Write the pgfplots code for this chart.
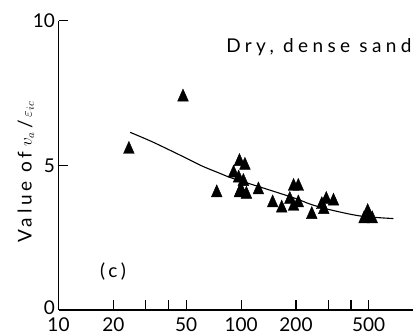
\documentclass[border=0pt]{standalone}
\usepackage{pgfplots}
\pgfplotsset{compat=1.18}
\usepackage{fontspec}
\setmainfont{Lato}
\newcommand{\lab}{\fontsize{19}{20}\selectfont}
\newcommand{\wide}{\addfontfeature{LetterSpace=20}}
\newcommand{\wider}{\addfontfeature{LetterSpace=23}}
\begin{document}
\begin{tikzpicture}[x=1pt,y=1pt]
\clip (0,0) rectangle (413,336);
\begin{axis}[
  at={(58.5pt,26pt)}, anchor=south west,
  scale only axis, width=354.5pt, height=289.3pt,
  xmode=log, xmin=10, xmax=875, ymin=0, ymax=10,
  axis lines=left, axis line style={-, line width=1.2pt},
  tick align=inside, major tick length=10pt,
  tick style={line width=1.1pt, black},
  xtick={10,20,30,40,50,100,200,300,400,500},
  xticklabels={10,20,,,50,100,200,,,500},
  minor xtick={},
  ytick={0,5,10}, yticklabels={\raisebox{5pt}{0},5,10},
  tick label style={font=\lab},
  xticklabel style={yshift=-4pt},
  ylabel={{\wide Value of} {\fontsize{16}{17}\selectfont$v_a$}\,/\,{\fontsize{15}{16}\selectfont$\varepsilon_{ic}$}},
  ylabel style={font=\lab, at={(axis description cs:-0.092,0.477)}, anchor=center},
  clip=false,
]
\addplot[only marks, mark=triangle*, mark size=6.2pt, mark options={yscale=1.3, black}] coordinates {
(24.3,5.55) (48.1,7.36) (73.6,4.05)
(91,4.73) (98,5.13) (105,5.0) (97,4.56) (103,4.44) (98,4.05) (107,4.0) (100,4.15)
(124.5,4.15) (149,3.7) (167,3.52)
(194,4.27) (206,4.27) (185,3.82) (194,3.58) (206,3.7)
(244,3.3) (277,3.64) (284,3.47) (293,3.82) (321,3.76)
(494,3.4) (494,3.25) (472,3.15) (523,3.15)
};
\addplot[black, line width=1.1pt, smooth] coordinates {
(24.7,6.14) (33,5.80) (50.4,5.24) (61,4.98) (76.8,4.72) (90,4.55) (138,4.18) (200,3.85) (239,3.66) (300,3.48) (449,3.25) (684,3.16)
};
\node[font=\lab, anchor=west, inner sep=0pt] at (axis cs:82.8,9.1) {\wider Dry, dense sand};
\node[font=\lab] at (axis cs:19.9,1.32) {\wide (c)};
\end{axis}
\end{tikzpicture}
\end{document}
